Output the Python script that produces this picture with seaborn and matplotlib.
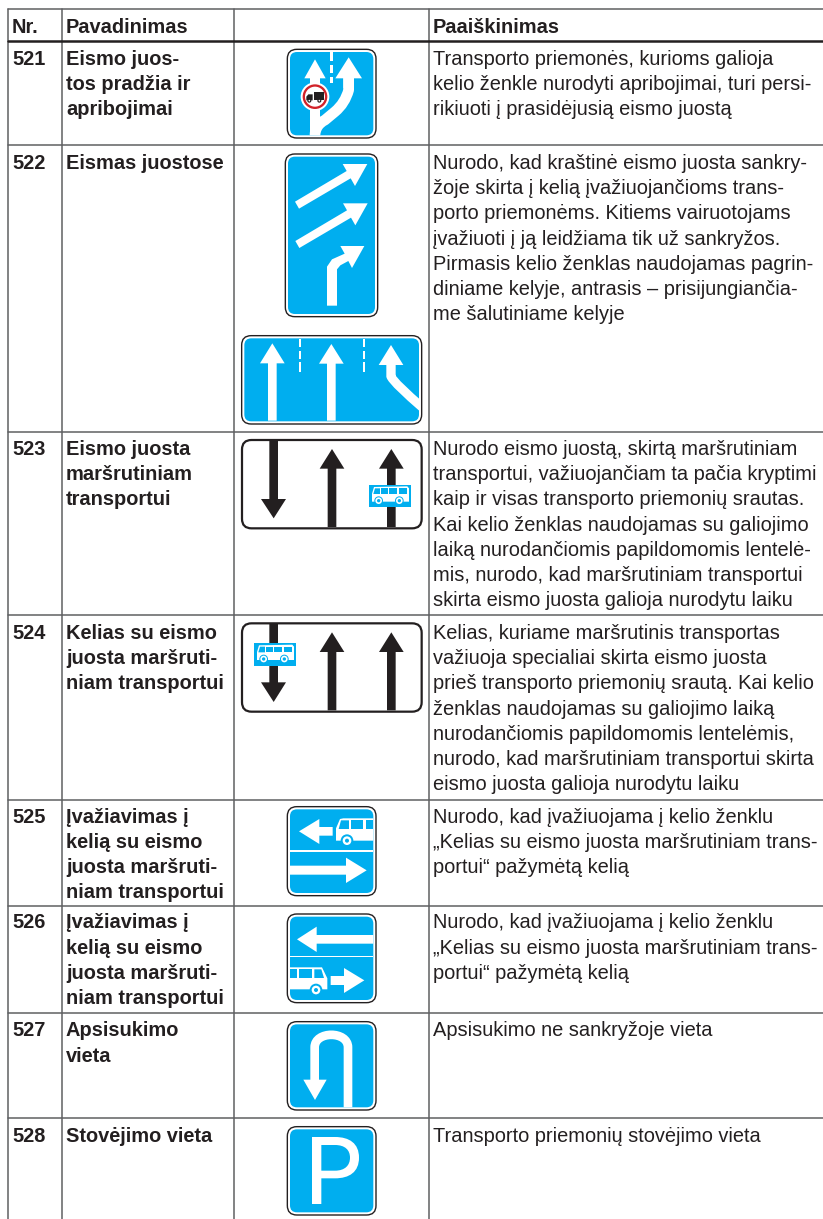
import matplotlib
matplotlib.use('Agg')
import matplotlib.pyplot as plt
from matplotlib.patches import Circle, FancyBboxPatch, PathPatch, Polygon, Rectangle
from matplotlib.path import Path
import pandas as pd
import seaborn as sns

BLUE = '#00AEEF'
INK = '#231F20'
RULE = '#5F6062'
RED = '#D2232A'

# table content
HEADERS = ['Nr.', 'Pavadinimas', 'Paaiškinimas']
NUMBERS = ['521', '522', '523', '524', '525', '526', '527', '528']
NAMES = [
    ['Eismo juos-', 'tos pradžia ir', 'apribojimai'],
    ['Eismas juostose'],
    ['Eismo juosta', 'maršrutiniam', 'transportui'],
    ['Kelias su eismo', 'juosta maršruti-', 'niam transportui'],
    ['Įvažiavimas į', 'kelią su eismo', 'juosta maršruti-', 'niam transportui'],
    ['Įvažiavimas į', 'kelią su eismo', 'juosta maršruti-', 'niam transportui'],
    ['Apsisukimo', 'vieta'],
    ['Stovėjimo vieta'],
]
NOTES = [
    ['Transporto priemonės, kurioms galioja',
     'kelio ženkle nurodyti apribojimai, turi persi-',
     'rikiuoti į prasidėjusią eismo juostą'],
    ['Nurodo, kad kraštinė eismo juosta sankry-',
     'žoje skirta į kelią įvažiuojančioms trans-',
     'porto priemonėms. Kitiems vairuotojams',
     'įvažiuoti į ją leidžiama tik už sankryžos.',
     'Pirmasis kelio ženklas naudojamas pagrin-',
     'diniame kelyje, antrasis – prisijungiančia-',
     'me šalutiniame kelyje'],
    ['Nurodo eismo juostą, skirtą maršrutiniam',
     'transportui, važiuojančiam ta pačia kryptimi',
     'kaip ir visas transporto priemonių srautas.',
     'Kai kelio ženklas naudojamas su galiojimo',
     'laiką nurodančiomis papildomomis lentelė-',
     'mis, nurodo, kad maršrutiniam transportui',
     'skirta eismo juosta galioja nurodytu laiku'],
    ['Kelias, kuriame maršrutinis transportas',
     'važiuoja specialiai skirta eismo juosta',
     'prieš transporto priemonių srautą. Kai kelio',
     'ženklas naudojamas su galiojimo laiką',
     'nurodančiomis papildomomis lentelėmis,',
     'nurodo, kad maršrutiniam transportui skirta',
     'eismo juosta galioja nurodytu laiku'],
    ['Nurodo, kad įvažiuojama į kelio ženklu',
     '„Kelias su eismo juosta maršrutiniam trans-',
     'portui“ pažymėtą kelią'],
    ['Nurodo, kad įvažiuojama į kelio ženklu',
     '„Kelias su eismo juosta maršrutiniam trans-',
     'portui“ pažymėtą kelią'],
    ['Apsisukimo ne sankryžoje vieta'],
    ['Transporto priemonių stovėjimo vieta'],
]

# pixel layout of the table
COL_X = [8, 62, 234, 429]
ROW_Y = [40.5, 145, 432, 615, 800, 906, 1013, 1118]
FIRST_BASE = [65, 169, 455, 639, 822.7, 928.3, 1036.5, 1141.5]
TABLE_TOP = 9
PAGE_RIGHT = 823
PAGE_BOTTOM = 1219
LINE_STEP = 25.2


def shape(ax, origin, coords, color='white', z=3):
    xy = [(origin[0] + x / 3, origin[1] + y / 3) for x, y in coords]
    p = Polygon(xy, closed=True, facecolor=color, edgecolor='none', zorder=z)
    ax.add_patch(p)
    return p


def stroke(ax, origin, verts, codes, width, color='white', z=3, clip=None):
    xy = [(origin[0] + x / 3, origin[1] + y / 3) for x, y in verts]
    p = PathPatch(Path(xy, codes), facecolor='none', edgecolor=color,
                  linewidth=width / 3 * 0.72, capstyle='butt', joinstyle='round', zorder=z)
    ax.add_patch(p)
    if clip is not None:
        p.set_clip_path(clip)
    return p


def box(ax, origin, x0, y0, x1, y1, color=BLUE, z=4):
    r = Rectangle((origin[0] + x0 / 3, origin[1] + y0 / 3), (x1 - x0) / 3, (y1 - y0) / 3,
                  facecolor=color, edgecolor='none', zorder=z)
    ax.add_patch(r)


def disc(ax, origin, x, y, r, color, z=5):
    ax.add_patch(Circle((origin[0] + x / 3, origin[1] + y / 3), r / 3, facecolor=color,
                        edgecolor='none', zorder=z))


def frame(ax, origin, x0, y0, x1, y1):
    ox, oy = origin
    outer = FancyBboxPatch((ox + x0 / 3, oy + y0 / 3), (x1 - x0) / 3, (y1 - y0) / 3,
                           boxstyle='round,pad=0,rounding_size=9.5', facecolor='white',
                           edgecolor=INK, linewidth=1.0, zorder=1)
    ax.add_patch(outer)
    inner = FancyBboxPatch((ox + (x0 + 8) / 3, oy + (y0 + 8) / 3), (x1 - x0 - 16) / 3, (y1 - y0 - 16) / 3,
                           boxstyle='round,pad=0,rounding_size=7', facecolor=BLUE,
                           edgecolor='none', zorder=2)
    ax.add_patch(inner)
    return inner


def black_frame(ax, origin, x0, y0, x1, y1):
    ox, oy = origin
    ax.add_patch(FancyBboxPatch((ox + x0 / 3, oy + y0 / 3), (x1 - x0) / 3, (y1 - y0) / 3,
                                boxstyle='round,pad=0,rounding_size=9.5', facecolor='white',
                                edgecolor=INK, linewidth=1.6, zorder=1))


def up_arrow(ax, origin, cx, tip, base, bottom, head=37, shaft=13, color='white'):
    shape(ax, origin, [(cx, tip), (cx + head, base), (cx + shaft, base), (cx + shaft, bottom),
                       (cx - shaft, bottom), (cx - shaft, base), (cx - head, base)], color)


def small_bus(ax, origin, x, y):
    # blue plate with a white bus, sizes in zoomed px
    box(ax, origin, x, y, x + 126, y + 67)
    shape(ax, origin, [(x + 9, y + 50), (x + 9, y + 26), (x + 15, y + 6), (x + 115, y + 4), (x + 120, y + 10),
                       (x + 120, y + 50)], z=5)
    for a, b in [(x + 36, x + 57), (x + 61, x + 83), (x + 90, x + 115)]:
        box(ax, origin, a, y + 10, b, y + 27, z=6)
    shape(ax, origin, [(x + 13, y + 27), (x + 18, y + 10), (x + 33, y + 10), (x + 33, y + 27)], color=BLUE, z=6)
    for cx in (x + 29, x + 91):
        disc(ax, origin, cx, y + 47, 13, BLUE, z=6)
        disc(ax, origin, cx, y + 47, 10, 'white', z=7)
        disc(ax, origin, cx, y + 47, 5, BLUE, z=8)


def big_bus_wheel(ax, origin, cx, cy):
    disc(ax, origin, cx, cy, 19, BLUE, z=6)
    disc(ax, origin, cx, cy, 13, 'white', z=7)
    disc(ax, origin, cx, cy, 6, BLUE, z=8)


def sign_521(ax):
    o = (0, 0)
    clip = frame(ax, o, 862, 148, 1128, 414)
    up_arrow(ax, o, 945, 178, 235, 406, head=32, shaft=15)
    up_arrow(ax, o, 1046, 172, 235, 265, head=40, shaft=16)
    stroke(ax, o, [(1046, 232), (1046, 270), (1035, 310), (1005, 335), (975, 360), (945, 375), (945, 406)],
           [Path.MOVETO, Path.LINETO, Path.CURVE3, Path.CURVE3, Path.LINETO, Path.CURVE3, Path.CURVE3], 32, clip=clip)
    for a, b in [(156, 182), (194, 220), (232, 250)]:
        box(ax, o, 990, a, 1000, b, color='white', z=3)
    disc(ax, o, 945, 290, 43, 'white')
    disc(ax, o, 945, 290, 37, RED, z=6)
    disc(ax, o, 945, 290, 30, 'white', z=7)
    box(ax, o, 941, 276, 972, 299, color=INK, z=8)
    shape(ax, o, [(919, 301), (919, 290), (925, 283), (938, 283), (938, 301)], color=INK, z=8)
    for cx in (928, 958):
        disc(ax, o, cx, 302, 6, INK, z=9)
        disc(ax, o, cx, 302, 2.5, 'white', z=10)


def sign_522(ax):
    o = (230, 140)
    frame(ax, o, 166, 42, 443, 530)
    for dx, dy in [(0, 0), (1, 118)]:
        shape(ax, o, [(195 + dx, 185 + dy), (207 + dx, 206 + dy), (362 + dx, 115 + dy), (375 + dx, 138 + dy),
                      (412 + dx, 72 + dy), (338 + dx, 72 + dy), (350 + dx, 93 + dy)])
    shape(ax, o, [(331, 318), (403, 318), (366, 384), (355, 363), (331, 376), (321, 388), (321, 497), (291, 497),
                  (291, 380), (306, 358), (344, 341)])

    clip = frame(ax, o, 35, 587, 575, 852)
    up_arrow(ax, o, 127, 610, 670, 842)
    up_arrow(ax, o, 304, 612, 671, 842)
    up_arrow(ax, o, 483, 615, 675, 712)
    stroke(ax, o, [(483, 672), (483, 710), (495, 732), (580, 805)],
           [Path.MOVETO, Path.LINETO, Path.CURVE3, Path.CURVE3], 27, clip=clip)
    for x in (210, 402):
        for a, b in [(596, 622), (632, 656), (666, 695)]:
            box(ax, o, x - 4, a, x + 4, b, color='white', z=3)


def sign_523_524(ax):
    o = (230, 430)
    black_frame(ax, o, 36, 30, 575, 295)
    shape(ax, o, [(131, 265), (168, 207), (144, 207), (144, 31), (118, 31), (118, 207), (93, 207)], INK)
    up_arrow(ax, o, 306, 57, 116, 291, color=INK)
    up_arrow(ax, o, 484, 57, 116, 291, color=INK)
    small_bus(ax, o, 417, 165)

    black_frame(ax, o, 36, 580, 575, 845)
    shape(ax, o, [(131, 816), (168, 757), (144, 757), (144, 581), (118, 581), (118, 757), (93, 757)], INK)
    up_arrow(ax, o, 306, 607, 666, 841, color=INK)
    up_arrow(ax, o, 484, 607, 666, 841, color=INK)
    small_bus(ax, o, 72, 640)


def sign_525_526(ax):
    o = (230, 800)
    frame(ax, o, 172, 20, 438, 287)
    box(ax, o, 180, 151, 430, 155, color='white', z=3)
    shape(ax, o, [(207, 94), (268, 57), (268, 81), (308, 81), (308, 107), (268, 107), (268, 132)])
    shape(ax, o, [(318, 122), (318, 85), (330, 57), (340, 55), (430, 55), (430, 122)])
    for a, b in [(362, 398), (408, 430)]:
        box(ax, o, a, 61, b, 87, z=4)
    shape(ax, o, [(326, 87), (333, 61), (357, 61), (357, 87)], color=BLUE, z=4)
    big_bus_wheel(ax, o, 351, 122)
    shape(ax, o, [(180, 197), (348, 197), (348, 173), (410, 211), (348, 249), (348, 224), (180, 224)])

    frame(ax, o, 172, 342, 438, 608)
    box(ax, o, 180, 468, 430, 472, color='white', z=3)
    shape(ax, o, [(201, 418), (260, 380), (260, 405), (430, 405), (430, 431), (260, 431), (260, 456)])
    shape(ax, o, [(180, 502), (276, 502), (292, 535), (292, 568), (180, 568)])
    for a, b in [(180, 202), (207, 246)]:
        box(ax, o, a, 508, b, 534, z=4)
    shape(ax, o, [(253, 508), (274, 508), (282, 534), (253, 534)], color=BLUE, z=4)
    big_bus_wheel(ax, o, 258, 570)
    shape(ax, o, [(302, 528), (342, 528), (342, 504), (403, 541), (342, 579), (342, 555), (302, 555)])


def sign_527_528(ax):
    o = (230, 1010)
    frame(ax, o, 172, 35, 438, 300)
    stroke(ax, o, [(354, 292), (354, 112), (354, 62), (254, 62), (254, 112), (254, 212)],
           [Path.MOVETO, Path.LINETO, Path.CURVE4, Path.CURVE4, Path.CURVE4, Path.LINETO], 26)
    shape(ax, o, [(220, 209), (290, 209), (255, 270)])

    frame(ax, o, 172, 350, 438, 615)
    xy = [(246, 582), (246, 381), (315, 381), (358, 381), (387, 400), (387, 443), (387, 486), (358, 505), (315, 505),
          (274, 505), (274, 582), (246, 582),
          (274, 405), (274, 482), (315, 482), (345, 482), (360, 466), (360, 443), (360, 420), (345, 405), (315, 405),
          (274, 405)]
    codes = [Path.MOVETO, Path.LINETO, Path.LINETO, Path.CURVE4, Path.CURVE4, Path.CURVE4, Path.CURVE4, Path.CURVE4,
             Path.CURVE4, Path.LINETO, Path.LINETO, Path.CLOSEPOLY,
             Path.MOVETO, Path.LINETO, Path.LINETO, Path.CURVE4, Path.CURVE4, Path.CURVE4, Path.CURVE4, Path.CURVE4,
             Path.CURVE4, Path.CLOSEPOLY]
    verts = [(o[0] + x / 3, o[1] + y / 3) for x, y in xy]
    ax.add_patch(PathPatch(Path(verts, codes), facecolor='white', edgecolor='none', zorder=3))


def main():
    sns.set_theme(style='white')
    plt.rcParams['font.family'] = ['Liberation Sans', 'DejaVu Sans']

    fig = plt.figure(figsize=(8.23, 12.19), dpi=100)
    ax = fig.add_axes([0, 0, 1, 1])

    # table rules go through seaborn as one long table of segments
    segs = []
    for i, x in enumerate(COL_X):
        segs.append({'rule': f'v{i}', 'x': x, 'y': TABLE_TOP})
        segs.append({'rule': f'v{i}', 'x': x, 'y': PAGE_BOTTOM})
    for i, y in enumerate([TABLE_TOP] + ROW_Y[1:]):
        segs.append({'rule': f'h{i}', 'x': COL_X[0], 'y': y})
        segs.append({'rule': f'h{i}', 'x': PAGE_RIGHT, 'y': y})
    rules = pd.DataFrame(segs)
    sns.lineplot(data=rules, x='x', y='y', units='rule', estimator=None, sort=False,
                 color=RULE, linewidth=1.1, ax=ax, legend=False)
    header_rule = pd.DataFrame({'x': [COL_X[0], PAGE_RIGHT], 'y': [ROW_Y[0], ROW_Y[0]]})
    sns.lineplot(data=header_rule, x='x', y='y', color=INK, linewidth=1.8, ax=ax, legend=False)

    ax.set_xlim(0, 823)
    ax.set_ylim(1219, 0)
    ax.axis('off')

    size = 14.4
    head_x = [COL_X[0] + 4, COL_X[1] + 4, COL_X[3] + 4]
    for x, label in zip(head_x, HEADERS):
        ax.text(x, 33, label, fontsize=size, fontweight='bold', color=INK, va='baseline')

    for i, num in enumerate(NUMBERS):
        y = FIRST_BASE[i]
        ax.text(COL_X[0] + 4, y, num, fontsize=size, fontweight='bold', color=INK, va='baseline')
        for j, line in enumerate(NAMES[i]):
            ax.text(COL_X[1] + 4, y + j * LINE_STEP, line, fontsize=size, fontweight='bold', color=INK, va='baseline')
        for j, line in enumerate(NOTES[i]):
            ax.text(COL_X[3] + 4, y + j * LINE_STEP, line, fontsize=size, color=INK, va='baseline')

    sign_521(ax)
    sign_522(ax)
    sign_523_524(ax)
    sign_525_526(ax)
    sign_527_528(ax)

    fig.savefig('out.png', dpi=100, facecolor='white')
    plt.close(fig)


if __name__ == '__main__':
    main()
